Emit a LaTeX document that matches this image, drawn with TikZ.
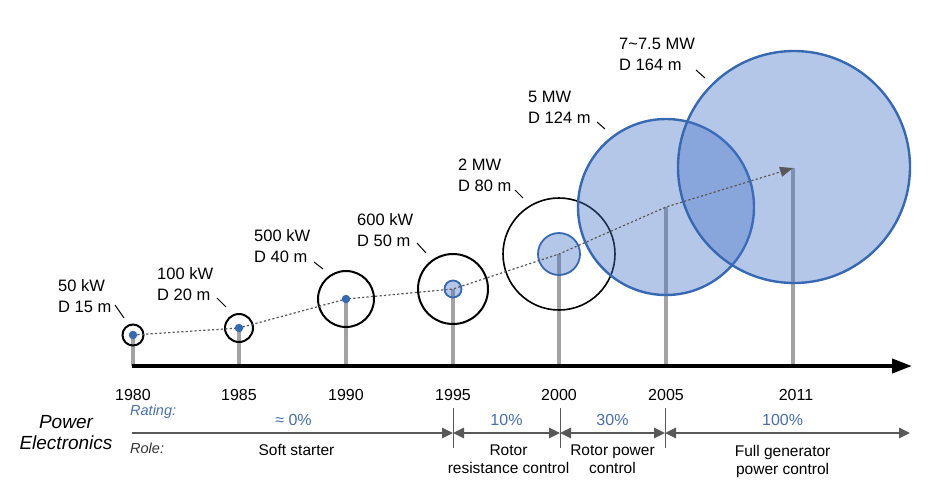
\documentclass[tikz,border=0pt]{standalone}
\usepackage{fontspec}
\setmainfont{Liberation Sans}
\usepackage{xcolor}
\usetikzlibrary{arrows.meta,positioning}
\definecolor{rotorblue}{RGB}{55,104,178}
\definecolor{rotorfill}{RGB}{70,116,200}
\definecolor{towergray}{RGB}{163,163,163}
\definecolor{arrowgray}{RGB}{88,88,88}
\definecolor{ratingblue}{RGB}{72,110,168}

\begin{document}
\begin{tikzpicture}[
  x=1pt, y=-1pt,
  every node/.style={font=\fontsize{16.5}{21}\selectfont, inner sep=0pt},
  tower/.style={towergray, line width=4pt},
  rotor/.style={circle, draw=black, line width=2pt, minimum size=#1},
  bigrotor/.style={circle, draw=rotorblue, line width=2.4pt, fill=rotorfill,
    fill opacity=0.4, minimum size=#1},
  innerrotor/.style={bigrotor=#1, line width=1.8pt},
  hub/.style={circle, fill=rotorblue, minimum size=8.5pt},
  yearlabel/.style={font=\fontsize{16}{20}\selectfont},
  ratingtext/.style={text=ratingblue, font=\fontsize{16}{20}\selectfont},
  roletext/.style={align=center, text=black, font=\fontsize{15.5}{18}\selectfont},
  span/.style={arrowgray, line width=2.5pt},
  divider/.style={arrowgray, line width=0.9pt},
  leader/.style={line width=1pt}
]
\useasboundingbox (0,0) rectangle (929,488);

% ── Towers and year labels ────────────────────────────────────────────────
\foreach \yr/\x/\y in {1980/133/335, 1985/239/328, 1990/346/299,
    1995/453/289, 2000/559/254, 2005/666/207, 2011/793/168} {
  \coordinate (c\yr) at (\x,\y);
  \coordinate (g\yr) at (\x,366);
  \draw[tower] (g\yr) -- (c\yr);
}
\foreach \yr/\x in {1980/133, 1985/239, 1990/346, 1995/453,
    2000/559, 2005/666, 2011/796}
  \node[yearlabel] (y\yr) at (\x,395) {\yr};

% ── Time axis ────────────────────────────────────────────────────────────
\coordinate (axisL) at (132,366);
\coordinate (axisR) at (912,366);
\draw[line width=4pt, -{Triangle[length=20pt,width=14pt]}] (axisL) -- (axisR);

% ── Rotor circles ────────────────────────────────────────────────────────
\node[rotor=21pt] (r1980) at (c1980) {};
\node[rotor=28pt] (r1985) at (c1985) {};
\node[rotor=56pt] (r1990) at (c1990) {};
\node[rotor=70pt] (r1995) at (c1995) {};
\node[rotor=112pt, line width=1.6pt] (r2000) at (c2000) {};
\node[innerrotor=17pt] (i1995) at (c1995) {};
\node[innerrotor=42pt] (i2000) at (c2000) {};
\node[bigrotor=176pt] (r2005) at (c2005) {};
\node[bigrotor=232pt] (r2011) at (794,167) {};

% ── Growth trend (dotted) ────────────────────────────────────────────────
\draw[arrowgray, line width=1.2pt, dash pattern=on 2.2pt off 2.2pt,
  -{Triangle[length=13pt,width=10pt]}]
  (c1980) -- (c1985) -- (c1990) -- (c1995) -- (c2000) -- (c2005) -- (c2011);

\node[hub] (h1980) at (c1980) {};
\node[hub] (h1985) at (c1985) {};
\node[hub] (h1990) at (c1990) {};

% ── Rating labels with leaders ───────────────────────────────────────────
\foreach \yr/\x/\y/\txt in {1980/58/296/{50 kW\\D 15 m},
    1985/157/284.5/{100 kW\\D 20 m}, 1990/254/246/{500 kW\\D 40 m},
    1995/357/230/{600 kW\\D 50 m}, 2000/458/175/{2 MW\\D 80 m},
    2005/528/107/{5 MW\\D 124 m}, 2011/619/54.5/{7\char`\~7.5 MW\\D 164 m}}
  \node[align=left, anchor=west] (l\yr) at (\x,\y) {\txt};

\foreach \yr/\xa/\ya/\xb/\yb in {1980/115/305/124/318, 1985/217/298/226/307,
    1990/314/262/323/269, 1995/417/243/426/253, 2000/515/190/523/198,
    2005/597/122/605/129, 2011/696/70/705/78} {
  \coordinate (ta\yr) at (\xa,\ya);
  \coordinate (tb\yr) at (\xb,\yb);
  \draw[leader] (ta\yr) -- (tb\yr);
}

% ── Power electronics row ────────────────────────────────────────────────
\node[align=center, font=\fontsize{19}{21}\selectfont\itshape] (pe) at (66,432.5)
  {Power\\Electronics};
\node[anchor=west, text=ratingblue, font=\fontsize{14.5}{18}\selectfont\itshape]
  (rating) at (130,412) {Rating:};
\node[anchor=west, text=black!80, font=\fontsize{14.5}{18}\selectfont\itshape]
  (role) at (130,448) {Role:};

\coordinate (s0) at (132,433);
\coordinate (s1) at (453,433);
\coordinate (s2) at (560,433);
\coordinate (s3) at (665,433);
\coordinate (s4) at (910,433);

\foreach \s in {s1,s2,s3}
  \draw[divider] ([yshift=25pt]\s) -- ([yshift=-15pt]\s);

\draw[span, -{Triangle[length=11pt,width=10pt]}] (s0) -- (s1)
  node[midway, above=6pt, ratingtext, xshift=1pt] {≈ 0\%}
  node[midway, below=10pt, roletext, xshift=4pt] {Soft starter};
\draw[span, {Triangle[length=11pt,width=10pt]}-{Triangle[length=11pt,width=10pt]}]
  (s1) -- (s2)
  node[midway, above=6pt, ratingtext] {10\%}
  node[midway, below=11pt, roletext, xshift=2pt] {Rotor\\resistance control};
\draw[span, {Triangle[length=11pt,width=10pt]}-{Triangle[length=11pt,width=10pt]}]
  (s2) -- (s3)
  node[midway, above=6pt, ratingtext] {30\%}
  node[midway, below=11pt, roletext] {Rotor power\\control};
\draw[span, {Triangle[length=11pt,width=10pt]}-{Triangle[length=11pt,width=10pt]}]
  (s3) -- (s4)
  node[pos=0.48, above=6pt, ratingtext] {100\%}
  node[pos=0.48, below=11pt, roletext] {Full generator\\power control};

\end{tikzpicture}
\end{document}
